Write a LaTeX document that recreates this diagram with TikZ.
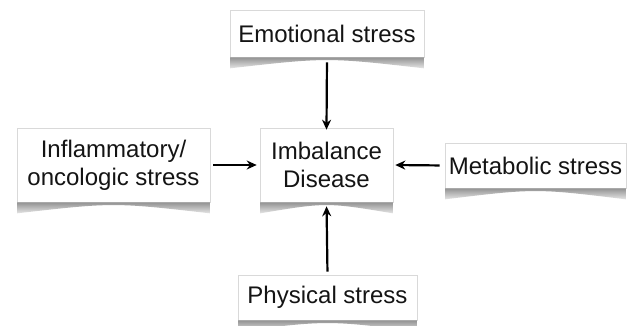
\documentclass[tikz,border=0pt]{standalone}
\usepackage{fontspec}
\setmainfont{Liberation Sans}
\usetikzlibrary{arrows.meta,calc}
\tikzset{
  box/.style={rectangle, fill=white, draw=gray!30, line width=0.6pt, align=center, inner sep=0pt,
    font=\fontsize{24}{28}\selectfont, text=black!92},
  conn/.style={line width=2.2pt, -{Stealth[length=10pt,width=9pt]}},
}
\newcommand{\curlshadow}[1]{%
  \shade[top color=gray!85, bottom color=gray!20]
    ([xshift=0.5pt]#1.south west) -- ++(0,11) .. controls ($(#1.south)+(0,0)$) .. ([xshift=-0.5pt,yshift=-11pt]#1.south east) -- ([xshift=-0.5pt]#1.south east) -- cycle;}
\begin{document}
\begin{tikzpicture}[x=1pt,y=-1pt]
\useasboundingbox (0,0) rectangle (630,326);
\fill[white] (0,0) rectangle (630,326);
\coordinate (eC) at (327,33.5);
\coordinate (lC) at (113.5,165);
\coordinate (cC) at (326.5,165);
\coordinate (mC) at (535.5,165.5);
\coordinate (pC) at (327.5,297.5);
\node[box, minimum width=194, minimum height=47] (emo) at (eC) {Emotional stress};
\node[box, minimum width=193, minimum height=74] (inf) at (lC) {Inflammatory/\\oncologic stress};
\node[box, minimum width=133, minimum height=74] (imb) at (cC) {Imbalance\\Disease};
\node[box, minimum width=181, minimum height=45] (met) at (mC) {Metabolic stress};
\node[box, minimum width=179, minimum height=45] (phy) at (pC) {Physical stress};
\curlshadow{emo}
\curlshadow{inf}
\curlshadow{imb}
\curlshadow{met}
\curlshadow{phy}
\draw[conn, shorten <=5pt] (emo.south) -- ([yshift=-2pt]imb.north);
\draw[conn, shorten <=3pt, shorten >=3pt] (inf.east) -- (imb.west);
\draw[conn, shorten <=5pt, shorten >=2pt] (met.west) -- (imb.east);
\draw[conn, shorten <=3pt, shorten >=4pt] (phy.north) -- (imb.south);
\end{tikzpicture}
\end{document}
